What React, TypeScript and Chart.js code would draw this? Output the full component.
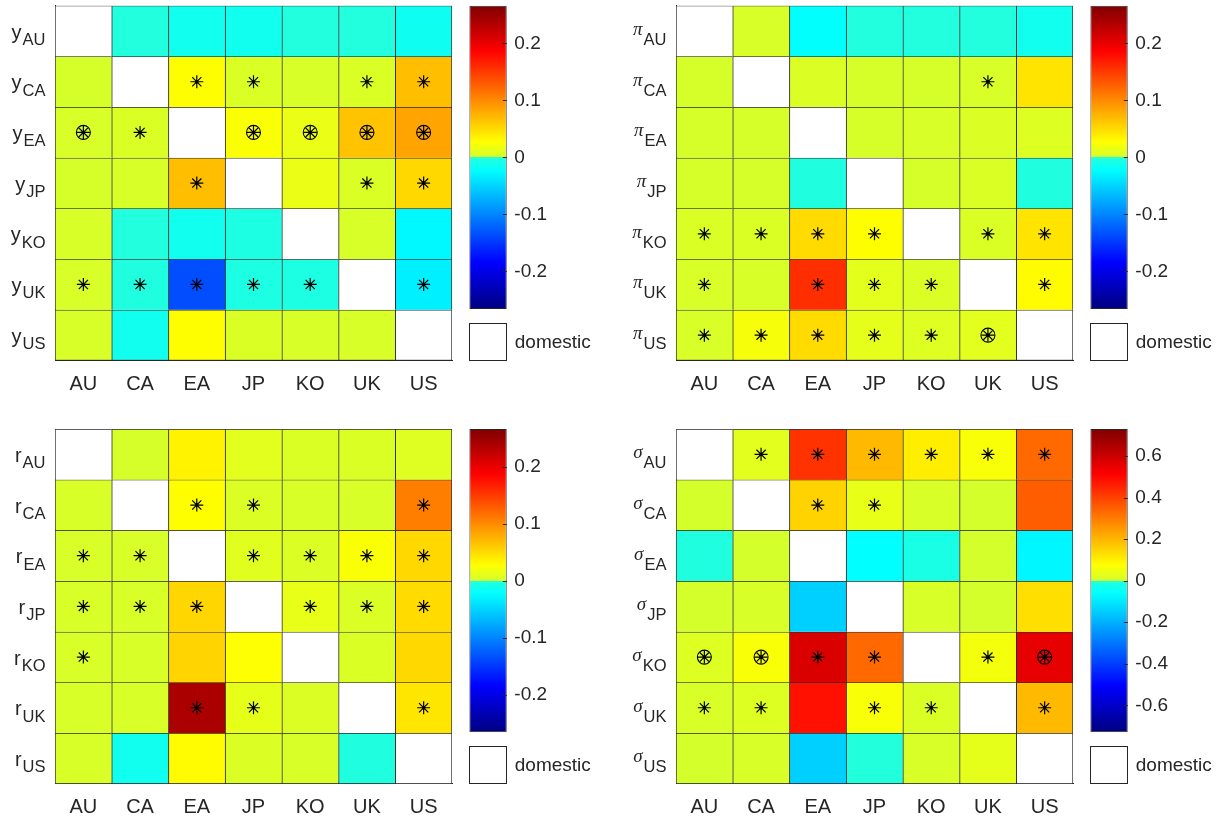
import React, { useEffect, useRef } from 'react';
import { Chart, registerables } from 'chart.js';

Chart.register(...registerables);

// ---------- categories ----------
const countries = ['AU', 'CA', 'EA', 'JP', 'KO', 'UK', 'US'];

// ---------- output (y) : row = responding economy, column = origin ----------
const yAU = [null, -0.002, -0.012, -0.012, -0.002, -0.002, -0.014];
const yCA = [0.002, null, 0.028, 0.004, 0.003, 0.004, 0.068];
const yEA = [0.003, 0.004, null, 0.025, 0.014, 0.065, 0.084];
const yJP = [0.002, 0.003, 0.068, null, 0.014, 0.004, 0.052];
const yKO = [0.003, -0.002, -0.012, -0.004, null, 0.003, -0.027];
const yUK = [0.003, -0.003, -0.135, -0.004, -0.004, null, -0.032];
const yUS = [0.003, -0.012, 0.028, 0.004, 0.003, 0.003, null];
// 0 = none, 1 = asterisk, 2 = circled asterisk
const yMkAU = [0, 0, 0, 0, 0, 0, 0];
const yMkCA = [0, 0, 1, 1, 0, 1, 1];
const yMkEA = [2, 1, 0, 2, 2, 2, 2];
const yMkJP = [0, 0, 1, 0, 0, 1, 1];
const yMkKO = [0, 0, 0, 0, 0, 0, 0];
const yMkUK = [1, 1, 1, 1, 1, 0, 1];
const yMkUS = [0, 0, 0, 0, 0, 0, 0];

// ---------- inflation (pi) ----------
const piAU = [null, 0.003, -0.022, -0.002, -0.002, -0.002, -0.012];
const piCA = [0.002, null, 0.005, 0.002, 0.002, 0.003, 0.044];
const piEA = [0.002, 0.002, null, 0.002, 0.003, 0.005, 0.006];
const piJP = [0.002, 0.002, -0.003, null, 0.002, 0.004, -0.003];
const piKO = [0.004, 0.004, 0.05, 0.028, null, 0.004, 0.044];
const piUK = [0.003, 0.003, 0.158, 0.01, 0.005, null, 0.03];
const piUS = [0.003, 0.022, 0.05, 0.011, 0.006, 0.009, null];
const piMkAU = [0, 0, 0, 0, 0, 0, 0];
const piMkCA = [0, 0, 0, 0, 0, 1, 0];
const piMkEA = [0, 0, 0, 0, 0, 0, 0];
const piMkJP = [0, 0, 0, 0, 0, 0, 0];
const piMkKO = [1, 1, 1, 1, 0, 1, 1];
const piMkUK = [1, 0, 1, 1, 1, 0, 1];
const piMkUS = [1, 1, 1, 1, 1, 2, 0];

// ---------- interest rate (r) ----------
const rAU = [null, 0.002, 0.035, 0.009, 0.004, 0.004, 0.007];
const rCA = [0.003, null, 0.028, 0.005, 0.003, 0.003, 0.108];
const rEA = [0.003, 0.003, null, 0.008, 0.005, 0.024, 0.052];
const rJP = [0.003, 0.003, 0.053, null, 0.013, 0.005, 0.05];
const rKO = [0.003, 0.003, 0.054, 0.026, null, 0.004, 0.052];
const rUK = [0.003, 0.003, 0.239, 0.012, 0.005, null, 0.043];
const rUS = [0.003, -0.012, 0.03, 0.005, 0.003, -0.003, null];
const rMkAU = [0, 0, 0, 0, 0, 0, 0];
const rMkCA = [0, 0, 1, 1, 0, 0, 1];
const rMkEA = [1, 1, 0, 1, 1, 1, 1];
const rMkJP = [1, 1, 1, 0, 1, 1, 1];
const rMkKO = [1, 0, 0, 0, 0, 0, 0];
const rMkUK = [0, 0, 1, 1, 0, 0, 1];
const rMkUS = [0, 0, 0, 0, 0, 0, 0];

// ---------- volatility (sigma) ----------
const sAU = [null, 0.026, 0.426, 0.194, 0.104, 0.065, 0.332];
const sCA = [0.004, null, 0.15, 0.035, 0.009, 0.002, 0.35];
const sEA = [-0.009, 0.001, null, -0.062, -0.018, 0.004, -0.076];
const sJP = [0.004, 0.009, -0.144, null, 0.009, 0.004, 0.13];
const sKO = [0.017, 0.065, 0.575, 0.332, null, 0.056, 0.552];
const sUK = [0.009, 0.017, 0.484, 0.065, 0.012, null, 0.194];
const sUS = [0.004, 0.009, -0.144, -0.003, 0.009, 0.03, null];
const sMkAU = [0, 1, 1, 1, 1, 1, 1];
const sMkCA = [0, 0, 1, 1, 0, 0, 0];
const sMkEA = [0, 0, 0, 0, 0, 0, 0];
const sMkJP = [0, 0, 0, 0, 0, 0, 0];
const sMkKO = [2, 2, 1, 1, 0, 1, 2];
const sMkUK = [1, 1, 0, 1, 1, 0, 1];
const sMkUS = [0, 0, 0, 0, 0, 0, 0];

// ---------- colour ranges and colourbar ticks ----------
const smallRange = 0.266;
const sigmaRange = 0.73;
const smallTicks = [-0.2, -0.1, 0, 0.1, 0.2];
const sigmaTicks = [-0.6, -0.4, -0.2, 0, 0.2, 0.4, 0.6];
const legendLabel = 'domestic';

// ---------- style / layout ----------
const TEXT = '#262626';
const SANS = '"Liberation Sans", Arial, Helvetica, sans-serif';
const SERIF = '"Liberation Serif", "DejaVu Serif", "Times New Roman", serif';
const PLOT_W = 397;
const PLOT_H = 354.8;
const Y_AXIS_W = 55;
const HM_W = 462;
const HM_H = 400;
const CB_W = 37.5;
const CB_H = 303.3;
const CB_CANVAS_W = 132;
const CB_CANVAS_H = 370;

function jet(t: number) {
  const c = (x: number) => Math.max(0, Math.min(1, x));
  return [c(1.5 - Math.abs(4 * t - 3)), c(1.5 - Math.abs(4 * t - 2)), c(1.5 - Math.abs(4 * t - 1))];
}
function rgb(a: number[]) {
  return `rgb(${Math.round(a[0] * 255)},${Math.round(a[1] * 255)},${Math.round(a[2] * 255)})`;
}
const NEG_TOP = 0.41;
const POS_BOT = 0.582;
function colorFor(v: number | null, M: number) {
  if (v === null || v === undefined) return '#ffffff';
  const x = Math.max(-M, Math.min(M, v));
  const t = x < 0 ? NEG_TOP * (1 + x / M) : POS_BOT + (1 - POS_BOT) * (x / M);
  return rgb(jet(t));
}

function Heatmap(props: any) {
  const { rows, marks, range, symbol, greek, left, top, padTop } = props;
  const ref = useRef<HTMLCanvasElement>(null);
  useEffect(() => {
    const xAxisH = HM_H - padTop - PLOT_H;
    const bars = rows.map((row: any[], i: number) => ({
      type: 'bar',
      order: 2,
      data: countries.map(() => [i - 0.5, i + 0.5]),
      backgroundColor: row.map((v) => colorFor(v, range)),
      borderColor: '#2a2a2a',
      borderWidth: row.map((_: any, j: number) => ({ top: 1, left: 1, right: j === 6 ? 1 : 0, bottom: i === 6 ? 1 : 0 })),
      borderSkipped: false,
      barPercentage: 1,
      categoryPercentage: 1,
      grouped: false,
    }));
    const starPts: any[] = [];
    const ringPts: any[] = [];
    marks.forEach((mr: number[], i: number) =>
      mr.forEach((m, j) => {
        if (m > 0) starPts.push({ x: countries[j], y: i });
        if (m === 2) ringPts.push({ x: countries[j], y: i });
      })
    );
    const pointDs = (pts: any[], style: string, r: number, fill: string, bw: number) => ({
      type: 'line',
      order: 0,
      data: pts,
      showLine: false,
      pointStyle: style,
      pointRadius: r,
      pointHoverRadius: r,
      pointBorderColor: '#000',
      pointBackgroundColor: fill,
      pointBorderWidth: bw,
    });
    const rowLabels = {
      id: 'rowLabels',
      afterDraw(chart: any) {
        const { ctx, chartArea, scales } = chart;
        ctx.save();
        ctx.fillStyle = TEXT;
        ctx.textBaseline = 'alphabetic';
        ctx.textAlign = 'right';
        countries.forEach((c, i) => {
          const yc = scales.y.getPixelForValue(i);
          const subRight = chartArea.left - 9.5;
          ctx.font = `16.5px ${SANS}`;
          ctx.fillText(c, subRight, yc + 14);
          const w = ctx.measureText(c).width;
          ctx.font = greek ? `italic 19px ${SERIF}` : `20px ${SANS}`;
          ctx.fillText(symbol, subRight - w - 1, yc + (greek ? 4 : 7.5));
        });
        ctx.restore();
      },
    };
    const chart = new Chart(ref.current as HTMLCanvasElement, {
      type: 'bar',
      data: {
        labels: countries,
        datasets: [
          ...bars,
          pointDs(ringPts, 'circle', 7, 'rgba(0,0,0,0)', 1.1),
          pointDs(starPts, 'star', 6.5, 'rgba(0,0,0,0)', 1.2),
          pointDs(starPts, 'circle', 1.7, '#000', 0),
        ] as any,
      },
      options: {
        responsive: false,
        animation: false,
        events: [],
        layout: {
          autoPadding: false,
          padding: { top: padTop, right: HM_W - Y_AXIS_W - PLOT_W, left: 0, bottom: 0 },
        },
        plugins: { legend: { display: false }, tooltip: { enabled: false } },
        scales: {
          x: {
            type: 'category',
            offset: true,
            grid: { display: false, drawTicks: false },
            border: { display: true, color: TEXT, width: 1 },
            ticks: {
              color: TEXT,
              font: { family: SANS, size: 20 },
              padding: 12,
              maxRotation: 0,
              autoSkip: false,
            },
            afterFit: (s: any) => {
              s.height = xAxisH;
              s.paddingLeft = 0;
              s.paddingRight = 0;
            },
          },
          y: {
            type: 'linear',
            min: -0.5,
            max: 6.5,
            reverse: true,
            grid: { display: false, drawTicks: false },
            border: { display: true, color: TEXT, width: 1 },
            ticks: { display: false },
            afterFit: (s: any) => {
              s.width = Y_AXIS_W;
              s.paddingTop = 0;
              s.paddingBottom = 0;
            },
          },
        },
      } as any,
      plugins: [rowLabels],
    });
    return () => chart.destroy();
  }, []);
  return (
    <canvas
      ref={ref}
      width={HM_W}
      height={HM_H}
      style={{ position: 'absolute', left, top, width: HM_W, height: HM_H }}
    />
  );
}

function Colorbar(props: any) {
  const { range, tickVals, left, top, padLeft, padTop } = props;
  const ref = useRef<HTMLCanvasElement>(null);
  useEffect(() => {
    const Y_W = 70;
    const gradientFill = (c: any) => {
      const chart = c.chart;
      const ys = chart.scales && chart.scales.y;
      if (!ys || !chart.chartArea) return '#ffffff';
      const g = chart.ctx.createLinearGradient(0, ys.getPixelForValue(-range), 0, ys.getPixelForValue(range));
      const N = 40;
      for (let k = 0; k <= N; k++) {
        const p = (k / N) * 0.4999;
        g.addColorStop(p, colorFor(-range + p * 2 * range, range));
      }
      for (let k = 0; k <= N; k++) {
        const p = 0.5 + (k / N) * 0.5;
        g.addColorStop(p, colorFor(-range + p * 2 * range, range));
      }
      return g;
    };
    const extras = {
      id: 'cbExtras',
      afterDraw(chart: any) {
        const { ctx, chartArea: a, scales } = chart;
        ctx.save();
        ctx.strokeStyle = TEXT;
        ctx.lineWidth = 1;
        tickVals.forEach((v: number) => {
          const y = Math.round(scales.y.getPixelForValue(v)) + 0.5;
          ctx.beginPath();
          ctx.moveTo(a.right - 4, y);
          ctx.lineTo(a.right, y);
          ctx.stroke();
        });
        const bt = a.bottom + 14;
        const bw = a.right - a.left;
        ctx.fillStyle = '#ffffff';
        ctx.fillRect(a.left, bt, bw, CB_W);
        ctx.strokeStyle = TEXT;
        ctx.strokeRect(Math.round(a.left) + 0.5, Math.round(bt) + 0.5, Math.round(bw) - 1, Math.round(CB_W) - 1);
        ctx.fillStyle = TEXT;
        ctx.font = `19px ${SANS}`;
        ctx.textAlign = 'left';
        ctx.textBaseline = 'middle';
        ctx.fillText(legendLabel, a.right + 8, bt + CB_W / 2 + 1);
        ctx.restore();
      },
    };
    const chart = new Chart(ref.current as HTMLCanvasElement, {
      type: 'bar',
      data: {
        labels: [''],
        datasets: [
          {
            data: [[-range, range]],
            backgroundColor: gradientFill,
            borderColor: TEXT,
            borderWidth: 1,
            borderSkipped: false,
            barPercentage: 1,
            categoryPercentage: 1,
            inflateAmount: 0,
          },
        ] as any,
      },
      options: {
        responsive: false,
        animation: false,
        events: [],
        layout: {
          autoPadding: false,
          padding: {
            left: padLeft,
            top: padTop,
            right: CB_CANVAS_W - padLeft - CB_W - Y_W,
            bottom: CB_CANVAS_H - padTop - CB_H,
          },
        },
        plugins: { legend: { display: false }, tooltip: { enabled: false } },
        scales: {
          x: { display: false, offset: true },
          y: {
            position: 'right',
            min: -range,
            max: range,
            grid: { display: false, drawTicks: false },
            border: { display: false },
            ticks: {
              color: TEXT,
              font: { family: SANS, size: 19 },
              padding: 7.5,
              callback: (v: any) => String(v),
            },
            afterBuildTicks: (s: any) => {
              s.ticks = tickVals.map((v: number) => ({ value: v }));
            },
            afterFit: (s: any) => {
              s.width = Y_W;
              s.paddingTop = 0;
              s.paddingBottom = 0;
            },
          },
        },
      } as any,
      plugins: [extras],
    });
    return () => chart.destroy();
  }, []);
  return (
    <canvas
      ref={ref}
      width={CB_CANVAS_W}
      height={CB_CANVAS_H}
      style={{ position: 'absolute', left, top, width: CB_CANVAS_W, height: CB_CANVAS_H }}
    />
  );
}

const panels = [
  {
    key: 'y', symbol: 'y', greek: false, range: smallRange, ticks: smallTicks,
    rows: [yAU, yCA, yEA, yJP, yKO, yUK, yUS],
    marks: [yMkAU, yMkCA, yMkEA, yMkJP, yMkKO, yMkUK, yMkUS],
  },
  {
    key: 'pi', symbol: 'π', greek: true, range: smallRange, ticks: smallTicks,
    rows: [piAU, piCA, piEA, piJP, piKO, piUK, piUS],
    marks: [piMkAU, piMkCA, piMkEA, piMkJP, piMkKO, piMkUK, piMkUS],
  },
  {
    key: 'r', symbol: 'r', greek: false, range: smallRange, ticks: smallTicks,
    rows: [rAU, rCA, rEA, rJP, rKO, rUK, rUS],
    marks: [rMkAU, rMkCA, rMkEA, rMkJP, rMkKO, rMkUK, rMkUS],
  },
  {
    key: 'sigma', symbol: 'σ', greek: true, range: sigmaRange, ticks: sigmaTicks,
    rows: [sAU, sCA, sEA, sJP, sKO, sUK, sUS],
    marks: [sMkAU, sMkCA, sMkEA, sMkJP, sMkKO, sMkUK, sMkUS],
  },
];

// placement of the four panels (plot-area left edge, canvas top, top padding)
const slots = [
  { plotLeft: 55, canvasTop: 0, padTop: 5.7 },
  { plotLeft: 676, canvasTop: 0, padTop: 5.7 },
  { plotLeft: 55, canvasTop: 420, padTop: 9 },
  { plotLeft: 676, canvasTop: 420, padTop: 9 },
];

export default function App() {
  return (
    <div
      style={{
        position: 'absolute',
        left: 0,
        top: 0,
        width: 1226,
        height: 820,
        overflow: 'hidden',
        background: '#ffffff',
      }}
    >
      {panels.map((p, k) => {
        const s = slots[k];
        const cbLeft = s.plotLeft + PLOT_W + 17.3;
        const cbCanvasLeft = Math.floor(cbLeft) - 2;
        return (
          <React.Fragment key={p.key}>
            <Heatmap
              rows={p.rows}
              marks={p.marks}
              range={p.range}
              symbol={p.symbol}
              greek={p.greek}
              left={s.plotLeft - Y_AXIS_W}
              top={s.canvasTop}
              padTop={s.padTop}
            />
            <Colorbar
              range={p.range}
              tickVals={p.ticks}
              left={cbCanvasLeft}
              top={s.canvasTop}
              padLeft={cbLeft - cbCanvasLeft}
              padTop={s.padTop}
            />
          </React.Fragment>
        );
      })}
    </div>
  );
}
